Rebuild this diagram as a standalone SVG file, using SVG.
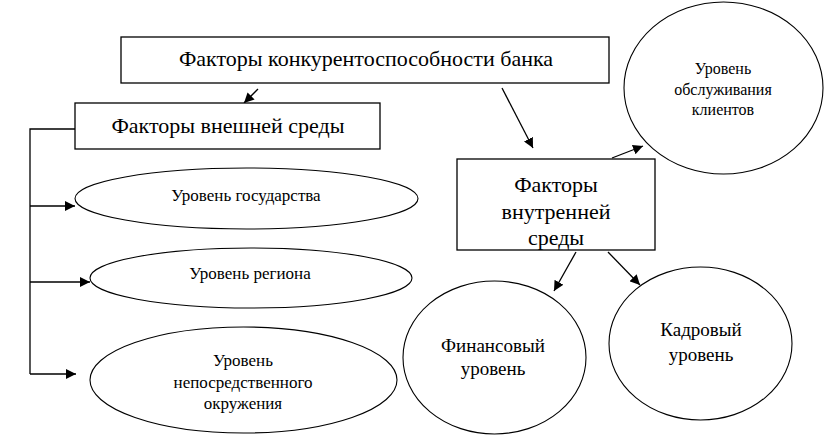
<svg xmlns="http://www.w3.org/2000/svg" width="831" height="447" viewBox="0 0 831 447">
<defs>
<marker id="ah" viewBox="0 0 10 10" refX="10" refY="5" markerWidth="10" markerHeight="10" markerUnits="userSpaceOnUse" orient="auto">
<path d="M0,0 L10,5 L0,10 Z" fill="#000"/>
</marker>
</defs>
<rect width="831" height="447" fill="#fff"/>
<g id="connectors" fill="none" stroke="#000" stroke-width="1.3">
<line x1="258" y1="89" x2="244" y2="103" marker-end="url(#ah)"/>
<line x1="502" y1="88" x2="533" y2="148" marker-end="url(#ah)"/>
<line x1="612" y1="158" x2="643" y2="146" marker-end="url(#ah)"/>
<line x1="576" y1="252" x2="554" y2="291" marker-end="url(#ah)"/>
<line x1="608" y1="252" x2="640" y2="285" marker-end="url(#ah)"/>
<polyline points="75,129 30,129 30,374"/>
<line x1="30" y1="206" x2="75" y2="206" marker-end="url(#ah)"/>
<line x1="30" y1="282" x2="90" y2="282" marker-end="url(#ah)"/>
<line x1="30" y1="374" x2="76" y2="374" marker-end="url(#ah)"/>
</g>
<g id="n-top">
<rect x="121" y="37" width="488" height="46" fill="#fff" stroke="#000" stroke-width="1.3"/>
<text x="366" y="66" font-family="Liberation Serif" font-size="22" text-anchor="middle">Факторы конкурентоспособности банка</text>
</g>
<g id="n-ext">
<rect x="75" y="103" width="305" height="46" fill="#fff" stroke="#000" stroke-width="1.3"/>
<text x="228" y="133" font-family="Liberation Serif" font-size="22" text-anchor="middle">Факторы внешней среды</text>
</g>
<g id="n-int">
<rect x="457" y="159" width="198" height="91" fill="#fff" stroke="#000" stroke-width="1.3"/>
<text x="556" y="192" font-family="Liberation Serif" font-size="22" text-anchor="middle">Факторы</text>
<text x="556" y="219" font-family="Liberation Serif" font-size="22" text-anchor="middle">внутренней</text>
<text x="556" y="245" font-family="Liberation Serif" font-size="22" text-anchor="middle">среды</text>
</g>
<g id="n-serv">
<ellipse cx="723.5" cy="88" rx="99.5" ry="86" fill="#fff" stroke="#000" stroke-width="1.1"/>
<text x="723" y="74" font-family="Liberation Serif" font-size="16" text-anchor="middle">Уровень</text>
<text x="723" y="95" font-family="Liberation Serif" font-size="16" text-anchor="middle">обслуживания</text>
<text x="723" y="115" font-family="Liberation Serif" font-size="16" text-anchor="middle">клиентов</text>
</g>
<g id="n-gov">
<ellipse cx="246.5" cy="198.5" rx="171.5" ry="30.5" fill="#fff" stroke="#000" stroke-width="1.1"/>
<text x="246" y="201" font-family="Liberation Serif" font-size="17" text-anchor="middle">Уровень государства</text>
</g>
<g id="n-reg">
<ellipse cx="251" cy="278" rx="161" ry="30" fill="#fff" stroke="#000" stroke-width="1.1"/>
<text x="250" y="279" font-family="Liberation Serif" font-size="17" text-anchor="middle">Уровень региона</text>
</g>
<g id="n-env">
<ellipse cx="243.5" cy="380" rx="153.5" ry="53" fill="#fff" stroke="#000" stroke-width="1.1"/>
<text x="243" y="366" font-family="Liberation Serif" font-size="17" text-anchor="middle">Уровень</text>
<text x="243" y="388" font-family="Liberation Serif" font-size="17" text-anchor="middle">непосредственного</text>
<text x="243" y="409" font-family="Liberation Serif" font-size="17" text-anchor="middle">окружения</text>
</g>
<g id="n-fin">
<ellipse cx="494.5" cy="357.5" rx="91.5" ry="76.5" fill="#fff" stroke="#000" stroke-width="1.1"/>
<text x="493" y="352" font-family="Liberation Serif" font-size="19" text-anchor="middle">Финансовый</text>
<text x="493" y="375" font-family="Liberation Serif" font-size="19" text-anchor="middle">уровень</text>
</g>
<g id="n-hr">
<ellipse cx="700.5" cy="343.5" rx="91.5" ry="76.5" fill="#fff" stroke="#000" stroke-width="1.1"/>
<text x="701" y="336" font-family="Liberation Serif" font-size="19" text-anchor="middle">Кадровый</text>
<text x="701" y="361" font-family="Liberation Serif" font-size="19" text-anchor="middle">уровень</text>
</g>
</svg>
